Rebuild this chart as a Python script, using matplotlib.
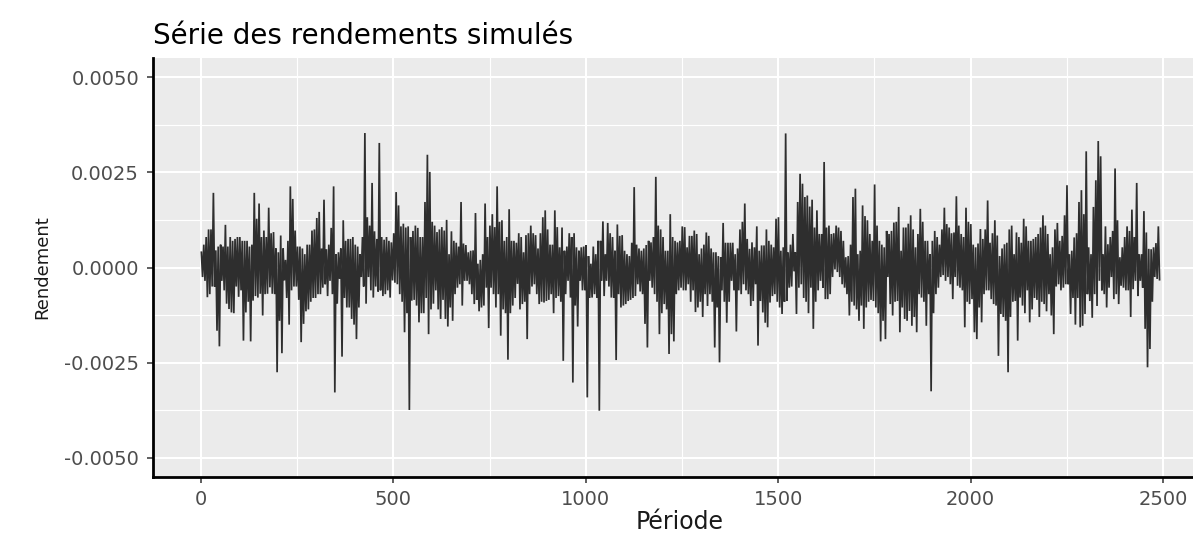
import matplotlib
matplotlib.use("Agg")
import matplotlib.pyplot as plt
import numpy as np

# Simulated returns, in units of 1e-4
# (alternating local high / local low, one pair per ~6 periods)
rendement_1e4 = [
    4.0,-2.5, 6,-3.5, 8,-7.8, 10,-7, 10,-5, 19.6,-5, 4.5,-16.6, 5.5,-20.7, 6,-3.5, 5.5,-6,
    11.2,-9.5, 5.5,-10.9, 8,-11.8, 7,-12, 7.5,-5, 8,-7.7, 8,-6, 7,-19.2, 7,-11.8, 7,-9,
    5.5,-19.4, 6,-8.7, 19.6,-7.5, 12.8,-7.9, 16.8,-6.9, 8,-12.6, 9.7,-7, 8,-6.9, 15.7,-5.2, 9,-6.9,
    9.3,-7, 5,-27.5, 4,-14, 8.4,-22.5, 5,-3.4, 2,-8, 7,-15, 21.3,-6, 18,-5, 9.7,-5,
    5.5,-8.5, 5.5,-19.6, 5,-14.8, 3.5,-11.5, 6,-11, 6,-9, 9.7,-8, 10,-8, 13,-7,
    14.6,-7, 5,-5.3, 17.8,-4.4, 4.8,-7.5, 6,-3.5, 10.4,-7, 21.3,-32.8, 3.5,-9.5, 4,-3, 5,-23.4,
    12.4,-8, 7,-10.5, 7.5,-10.5, 7.5,-13.5, 8,-15, 6,-18.8, 5.5,-10.5, 3.5,-2.5, 8,-5, 35.3,-9.5,
    13.2,-2.5, 11,-6, 22.2,-7.9, 9.5,-5, 7.5,-6.3, 32.7,-6, 8,-7.5, 7.3,-7, 8,-6, 7,-7.9,
    6.6,-3.4, 9,-4, 19.8,-4.4, 16.3,-7, 10.8,-9, 11.5,-17, 10.5,-12, 10.8,-37.4, 8,-8.7, 9.6,-8.5,
    11,-10, 10.4,-14.4, 8,-12, 8,-12, 17.2,-8, 29.6,-17.5, 25.1,-11, 12,-9.5, 11,-6, 9.3,-11,
    10,-13.5,
    10.6,-8.5, 9.7,-13.5, 12.5,-15.5, 3.5,-10.5, 9.5,-14, 7,-7, 6.5,-5.3, 5.5,-4.4, 17.2,-10, 6.3,-3.5,
    5.9,-3.5, 4,-4.4, 4.4,-7, 4.5,-9.6, 14.3,-8.5, 1,-11.5, 2,-10.5, 3.5,-10, 16.8,-5.3, 8,-15.9,
    11,-5.3, 14,-7, 10.6,-10.5, 21.3,-7, 12,-17.9, 12.4,-11, 7,-12, 8,-24.2, 15.3,-12, 7,-10,
    7,-8, 6.5,-4.3, 9,-11, 8,-9.6, 4,-9, 8.5,-18.8, 9,-7, 11,-5, 9,-4.4, 8.5,-7,
    5,-9.6, 9,-9, 13.2,-9.2, 15,-8.8, 10,-8.5, 6,-7, 6,-12, 15,-8, 10.6,-7.5, 5.3,-9,
    10.5,-24.5, 4.4,-7, 5.5,-3.5, 9,-7.9, 8,-30.2, 9,-10, 5.3,-15.5, 4.4,-3.5, 5.3,-6, 5.5,-6,
    5.9,-34.1, 3,-8, 1,-7.9, 5.5,-7, 3.5,-8, 7,-37.6, 7,-3.5, 12.1,-7.5, 3.5,-3.5, 11.7,-5,
    9,-7.9, 8,-8, 4.4,-24.3, 11.3,-7, 8.3,-10.5, 8.5,-10, 4.4,-9.6, 3.5,-8.8, 3,-8.5, 6.5,-8,
    21.1,-7.5, 6,-4.4, 5,-6.3, 4.4,-7, 5,-14.8, 5.9,-21, 7,-3.5, 6.6,-5.3, 8,-7, 23.8,-9,
    11,-17.5, 10,-12, 8,-9.6, 4.4,-11, 4.4,-22.7, 14,-17.5, 8,-19.4, 7,-7, 6.6,-6, 7,-5.3,
    10.8,-6,
    10.6,-6, 5.3,-4.4, 8.3,-9, 8.3,-6, 9.7,-11.7, 8.8,-10.5, 3.5,-9, 5,-13, 6,-7, 9.2,-10.1,
    8.3,-7, 5,-9, 4,-21, 4,-10.5, 3,-24.9, 2.7,-6, 11.7,-9, 6.5,-14.5, 6.5,-9, 6.5,-3.5,
    6.5,-6, 3.5,-16.8, 5,-6, 10,-7, 12,-4.4, 16.8,-6, 7.5,-7, 4.9,-10.1, 6.6,-8.8, 5.3,-4.4,
    10.8,-20.5, 4.4,-8.8, 5.8,-11.8, 5.8,-14.5, 10,-15.7, 7,-9.2, 6,-7.5, 5.3,-7, 12.8,-9, 13.2,-10.5,
    4.4,-12.2, 5.3,-9, 35.2,-8.8, 4,-5.3, 6,-5, 8.8,-1, 4,-12.2, 17.2,-5.3, 24.6,-4.4, 22,-8,
    18.5,-9,
    18.9,-12, 16,-5.3, 17.8,-16.1, 10.5,-9, 15,-6, 8.8,-3.5, 8.8,-5.3, 27.7,-8.3, 10.5,-8.3, 11,-7,
    8.8,-2.5, 9,-0.5, 11,-1.2, 10.5,-2.5, 9.6,-4.4, 7,-5.3, 2.7,-7, 3,-12.6, 6,-9, 18.5,-10,
    20.7,-11, 3.5,-14, 4.4,-10, 16.3,-16.1, 13.5,-10.5, 12.4,-9, 8.8,-8.5, 7,-8.8, 21.8,-10.5, 11,-12,
    7,-19.4, 6,-14, 5.3,-18.8, 9.6,-2.5, 8.8,-9.6, 9.6,-12.6, 11.8,-9, 12,-8.8, 15.9,-17, 4.4,-10.5,
    10.5,-13.5, 10.5,-14, 11.5,-11.4, 13.7,-15.3, 10,-13, 5.3,-17, 8.8,-7, 15.4,-7.9, 12,-9, 7,-15.3,
    7,-7, 3.5,-32.5, 7,-12, 9.6,-7, 8,-5.3, 6,-2.5, 10,-2, 15.7,-3.5, 11.4,-2.5, 10.5,-4.4,
    9,-8.3, 9.2,-2.5, 18.7,-4.8, 11,-5.3, 8.8,-6, 8,-15.7, 15.7,-9, 12,-9.6, 11.4,-8.3, 6,-17,
    5.3,-18.8, 6.3,-10.5, 10.1,-14.4, 7.5,-7, 10,-6, 17.6,-6, 6.5,-8.3, 9,-9.6, 12.4,-10, 8.4,-23.2,
    3,-12.2, 5,-13, 6.1,-14, 6.5,-27.5, 10,-13, 11,-9, 3.5,-8.8, 9.2,-19.2, 8,-7.9, 6.5,-10,
    12.8,-12, 10.8,-6, 7,-14.4, 7,-11, 7.5,-8, 8,-8.5, 8.8,-13, 10.5,-9, 13.7,-9.6, 11,-11.5,
    8.8,-7,
    3.5,-12.6, 5.3,-17.5, 10,-5, 11.7,-4.4, 7,-6, 8.3,-5.3, 13.7,-4.4, 21.6,-4.4, 3.5,-12.2, 4.4,-8,
    7.9,-15, 9,-8, 17.2,-15.7, 20.3,-15.3, 14,-12.2, 30.5,-7, 5.3,-8.8, 3.5,-13.2, 15.9,-7, 22.9,-10.1,
    33.2,-3.5, 29.2,-6, 3.5,-7, 10.8,-10.5, 6.1,-5.3, 8,-2.5, 9.6,-8.3, 26,-7, 12.4,-9.6, 2.7,-4.8,
    5.3,-5.3, 8,-6, 10.8,-6, 9.6,-13, 15.2,-5.7, 8,-3.5, 22.2,-7.5, 3.5,-3.5, 3.5,-5.3, 14.8,-16.1,
    9.2,-26.2, 4.9,-21.4, 4.8,-9, 5.3,-2.5, 6.4,-3, 10.8,-3.2,
]
periode_debut = 1
periode_fin = 2491

x_ticks = [0, 500, 1000, 1500, 2000, 2500]
x_tick_labels = ["0", "500", "1000", "1500", "2000", "2500"]
x_minor = [250, 750, 1250, 1750, 2250]
y_ticks = [-0.005, -0.0025, 0.0, 0.0025, 0.005]
y_tick_labels = ["-0.0050", "-0.0025", "0.0000", "0.0025", "0.0050"]
y_minor = [-0.00375, -0.00125, 0.00125, 0.00375]

titre = "Série des rendements simulés"
x_label = "Période"
y_label = "Rendement"

rendement = np.array(rendement_1e4) * 1e-4
periode = np.linspace(periode_debut, periode_fin, len(rendement))

fig = plt.figure(figsize=(11.93, 5.36), dpi=100)
fig.patch.set_facecolor("white")
ax = fig.add_axes([0.12825, 0.11007, 0.88684, 0.78172])
ax.set_facecolor("#EBEBEB")
ax.set_xlim(-124.7, 2624.7)
ax.set_ylim(-0.0055, 0.0055)

ax.set_xticks(x_ticks, x_tick_labels)
ax.set_yticks(y_ticks, y_tick_labels)
ax.set_xticks(x_minor, minor=True)
ax.set_yticks(y_minor, minor=True)
ax.set_axisbelow(True)
ax.grid(which="major", color="white", linewidth=1.5)
ax.grid(which="minor", color="white", linewidth=0.8)

ax.plot(periode, rendement, color="#2E2E2E", linewidth=1.25,
        solid_joinstyle="miter", zorder=3)

for s in ["top", "right"]:
    ax.spines[s].set_visible(False)
for s in ["left", "bottom"]:
    ax.spines[s].set_color("black")
    ax.spines[s].set_linewidth(2.0)

ax.tick_params(axis="both", which="major", length=4, width=1.1,
               color="#333333", labelcolor="#4D4D4D", labelsize=14)
ax.tick_params(axis="x", which="major", pad=5)
ax.tick_params(axis="y", which="major", pad=6)
ax.tick_params(which="minor", length=0)

ax.set_title(titre, loc="left", fontsize=20, pad=10, color="black")
ax.set_xlabel(x_label, fontsize=17, color="#1A1A1A")
ax.xaxis.set_label_coords(0.498, -0.0788)
ax.set_ylabel(y_label, fontsize=13, color="#1A1A1A")
ax.yaxis.set_label_coords(-0.0964, 0.5)

fig.savefig("out.png", dpi=100)
